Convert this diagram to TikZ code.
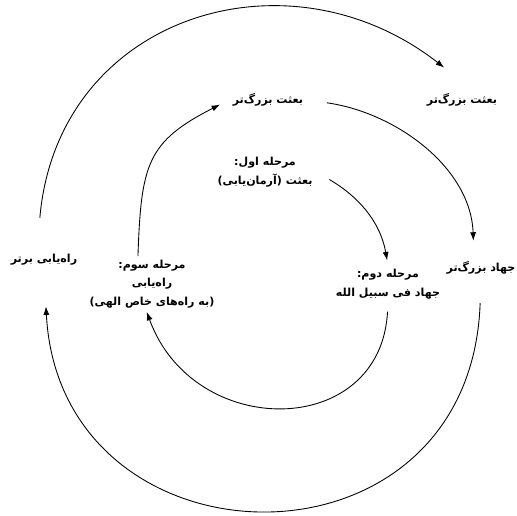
\documentclass[tikz,border=0pt]{standalone}
\usepackage{fontspec}
\usetikzlibrary{arrows.meta}
\newfontfamily\fafont[Script=Arabic]{DejaVu Sans}
\TeXXeTstate=1
\newcommand\rl[1]{\beginR #1\endR}

\begin{document}
\begin{tikzpicture}[
    x=0.02cm, y=-0.02cm,
    lbl/.style={
        align=center,
        font=\fafont\bfseries\fontsize{6.3}{10.5}\selectfont,
        inner sep=2pt
    },
    flow/.style={-{Latex[length=1.7mm,width=1.2mm]}, line width=0.5pt}
]
\useasboundingbox (0,0) rectangle (517,515);

\node[lbl] (besatT) at (268,100) {\rl{بعثت بزرگ^^^^200cتر}};
\node[lbl] (besatR) at (462,100) {\rl{بعثت بزرگ^^^^200cتر}};
\node[lbl] (jihad) at (481,268) {\rl{جهاد بزرگ^^^^200cتر}};
\node[lbl] (rahyabi) at (44,260) {\rl{راه^^^^200cیابی برتر}};
\node[lbl] (stage1) at (265,172) {\rl{مرحله اول:}\\\rl{بعثت (آرمان^^^^200cیابی)}};
\node[lbl] (stage2) at (388,284) {\rl{مرحله دوم:}\\\rl{جهاد فی سبیل الله}};
\node[lbl] (stage3) at (152,284) {\rl{مرحله سوم:}\\\rl{راه^^^^200cیابی}\\\rl{(به راه^^^^200cهای خاص الهی)}};

% outer ring
\draw[flow, shorten <=0.66cm, shorten >=0.72cm] ([xshift=-4pt]rahyabi.north) to[out=85, in=142, looseness=1.3] ([xshift=6pt]besatR.north);
\draw[flow, shorten <=0.5cm, shorten >=0.74cm] (jihad.south) to[out=-92, in=-87, looseness=1.79] (rahyabi.south);
\draw[flow, shorten <=0.4cm, shorten >=0.34cm] (besatT.east) to[out=-8, in=92] ([xshift=-4pt]jihad.north);

% inner ring
\draw[flow, shorten >=0.2cm] ([xshift=-8pt]stage3.north) to[out=88, in=207, looseness=1.3] (besatT.west);
\draw[flow, shorten <=0.3cm, shorten >=0.1cm] (stage1.east) to[out=-30, in=100] (stage2.north);
\draw[flow, shorten <=0.18cm] (stage2.south) to[out=-93, in=-70, looseness=1.45] ([xshift=-3pt]stage3.south);
\end{tikzpicture}
\end{document}
